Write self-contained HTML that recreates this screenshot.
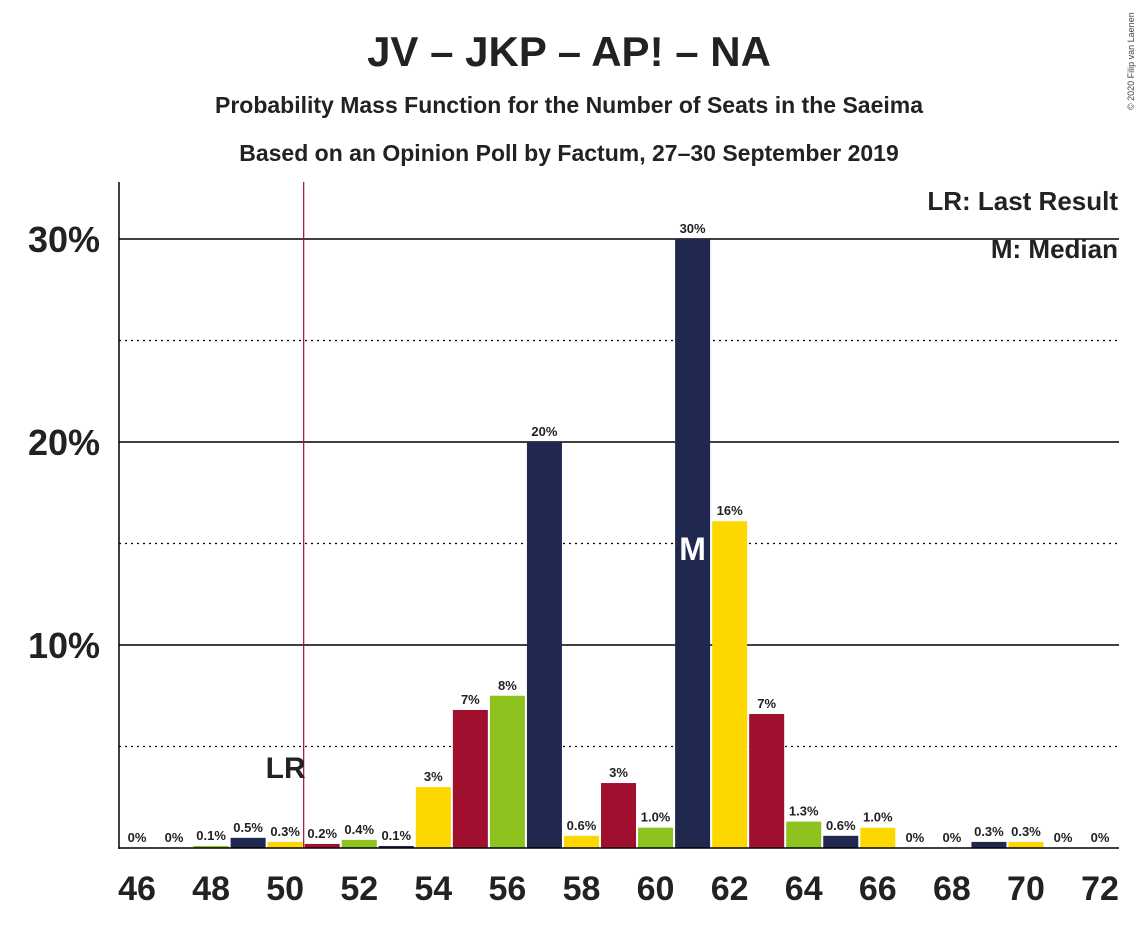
<!DOCTYPE html>
<html><head><meta charset="utf-8"><style>
body{margin:0;background:#fff;font-family:"Liberation Sans",sans-serif;}
text{font-family:"Liberation Sans",sans-serif;}
</style></head><body>
<svg id="chart" width="1139" height="924" xmlns="http://www.w3.org/2000/svg">
<text x="569" y="66" text-anchor="middle" font-size="42" font-weight="bold" fill="#222">JV – JKP – AP! – NA</text>
<text x="569" y="113" text-anchor="middle" font-size="23" font-weight="bold" fill="#222">Probability Mass Function for the Number of Seats in the Saeima</text>
<text x="569" y="161" text-anchor="middle" font-size="23" font-weight="bold" fill="#222">Based on an Opinion Poll by Factum, 27–30 September 2019</text>
<text x="1134" y="110" font-size="9" fill="#444" transform="rotate(-90 1134 110)">© 2020 Filip van Laenen</text>
<g id="grid"></g>
<g id="bars"></g>
<g id="labels"></g>
<line x1="119" y1="182" x2="119" y2="849" stroke="#000" stroke-width="1.5"/>
<line x1="119" y1="848" x2="1119" y2="848" stroke="#000" stroke-width="1.5"/>
<text x="1118" y="210" text-anchor="end" font-size="26" font-weight="bold" fill="#222">LR: Last Result</text>
<text x="1118" y="258" text-anchor="end" font-size="26" font-weight="bold" fill="#222">M: Median</text>
</svg>
<script>
const seats=[46,47,48,49,50,51,52,53,54,55,56,57,58,59,60,61,62,63,64,65,66,67,68,69,70,71,72];
const probs=[0,0,0.1,0.5,0.3,0.2,0.4,0.1,3.0,6.8,7.5,20.0,0.6,3.2,1.0,30.0,16.1,6.6,1.3,0.6,1.0,0,0,0.3,0.3,0,0];
const valueLabels=["0%","0%","0.1%","0.5%","0.3%","0.2%","0.4%","0.1%","3%","7%","8%","20%","0.6%","3%","1.0%","30%","16%","7%","1.3%","0.6%","1.0%","0%","0%","0.3%","0.3%","0%","0%"];
const yTicks=[10,20,30];
const yDotted=[5,15,25];
const xTickSeats=[46,48,50,52,54,56,58,60,62,64,66,68,70,72];
const lastResult=50.5;
const median=61;
const colors=["#8dc21f","#20284f","#fcd800","#a0102e"];
const NS="http://www.w3.org/2000/svg";
const xS=s=>137+(s-46)*37.04;
const yS=v=>848-v*20.3;
function mk(tag,attrs,parent){const e=document.createElementNS(NS,tag);for(const k in attrs)e.setAttribute(k,attrs[k]);document.getElementById(parent).appendChild(e);return e;}
yTicks.forEach(t=>{
 const l=mk('line',{x1:119,x2:1119,y1:yS(t),y2:yS(t),stroke:'#000','stroke-width':1.5},'grid');
 
 
 const tx=mk('text',{x:100,y:yS(t)+13,'text-anchor':'end','font-size':36,'font-weight':'bold',fill:'#222'},'grid');
 tx.textContent=t+'%';
 
 
});
yDotted.forEach(t=>{
 const l=mk('line',{x1:119,x2:1119,y1:yS(t),y2:yS(t),stroke:'#000','stroke-width':1.2,'stroke-dasharray':'2,4'},'grid');
 
 
});
seats.forEach((s,i)=>{
 const v=probs[i];
 if(v>0){
  const r=mk('rect',{x:xS(s)-17.5,y:yS(v),width:35,height:848-yS(v),fill:colors[s%4]},'bars');
  
  
 }
 const t=mk('text',{x:xS(s),y:yS(v)-6,'text-anchor':'middle','font-size':13,'font-weight':'bold',fill:'#222'},'labels');
 t.textContent=valueLabels[i];
 
 
});
xTickSeats.forEach(s=>{
 const t=mk('text',{x:xS(s),y:900,'text-anchor':'middle','font-size':34,'font-weight':'bold',fill:'#222'},'labels');
 t.textContent=s;
 
 
});
const lr=mk('line',{x1:xS(lastResult),x2:xS(lastResult),y1:182,y2:848,stroke:'#a0102e','stroke-width':1.2},'labels');


const lrt=mk('text',{x:xS(lastResult)+2,y:778,'text-anchor':'end','font-size':30,'font-weight':'bold',fill:'#222'},'labels');
lrt.textContent='LR';


const mt=mk('text',{x:xS(median),y:560,'text-anchor':'middle','font-size':32,'font-weight':'bold',fill:'#fff'},'labels');
mt.textContent='M';


</script>
</body></html>
